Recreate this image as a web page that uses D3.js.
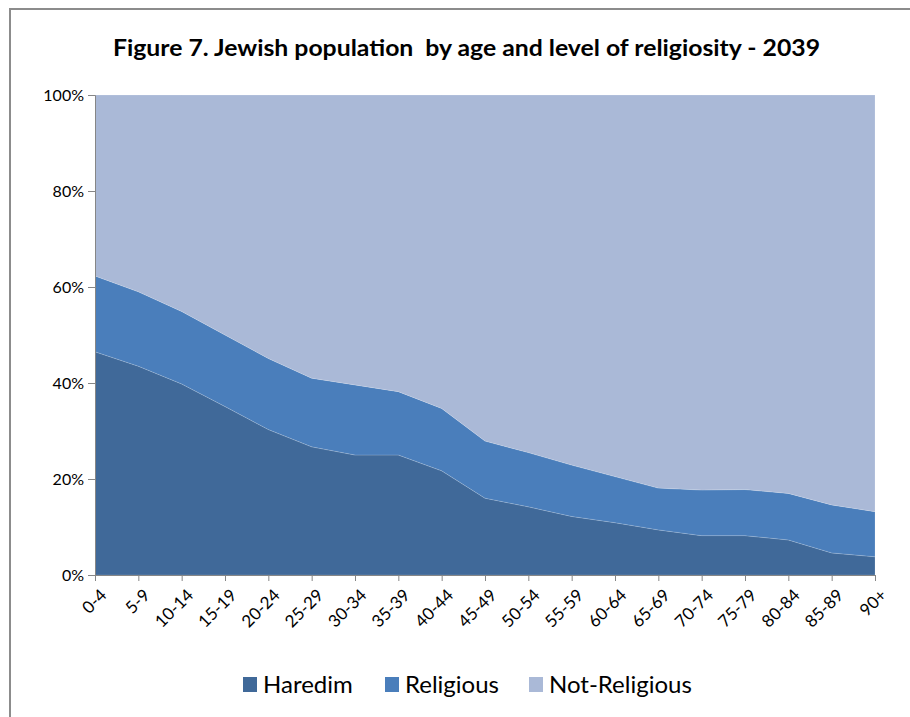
<!DOCTYPE html>
<html>
<head>
<meta charset="utf-8">
<script src="https://cdn.jsdelivr.net/npm/d3@7"></script>
<style>
  body { margin: 0; background: #fff; }
  svg { display: block; font-family: Lato, "Open Sans", sans-serif; }
</style>
</head>
<body>
<svg id="chart" width="910" height="717"></svg>
<script>
const width = 910;
const height = 717;
const margin = { left: 95, top: 95, right: 35, bottom: 142 };

// data (percent)
const ageGroups = ['0-4','5-9','10-14','15-19','20-24','25-29','30-34','35-39','40-44',
  '45-49','50-54','55-59','60-64','65-69','70-74','75-79','80-84','85-89','90+'];
const haredim     = [46.5, 43.5, 39.8, 35.1, 30.3, 26.7, 25.0, 25.0, 21.7, 16.0, 14.2, 12.2, 10.9, 9.4, 8.2, 8.2, 7.3, 4.6, 3.8];
const religious   = [15.8, 15.5, 15.1, 14.9, 14.8, 14.3, 14.6, 13.2, 13.0, 11.9, 11.3, 10.7, 9.6, 8.7, 9.5, 9.6, 9.7, 10.0, 9.4];
const notReligious= [37.7, 41.0, 45.1, 50.0, 54.9, 59.0, 60.4, 61.8, 65.3, 72.1, 74.5, 77.1, 79.5, 81.9, 82.3, 82.2, 83.0, 85.4, 86.8];
const seriesNames = ['Haredim', 'Religious', 'Not-Religious'];
const seriesColors = ['#406999', '#4a7ebb', '#aab9d7'];
const yTicks = [0, 0.2, 0.4, 0.6, 0.8, 1];

const rows = ageGroups.map((a, i) => ({
  age: a, Haredim: haredim[i], Religious: religious[i], 'Not-Religious': notReligious[i]
}));

const svg = d3.select('#chart');

// outer frame (top + left edges visible)
svg.append('path')
  .attr('d', `M10,${height} V9 H${width}`)
  .attr('fill', 'none')
  .attr('stroke', '#8c8c8c')
  .attr('stroke-width', 2);

// title
svg.append('text')
  .attr('x', 113).attr('y', 56)
  .attr('font-weight', 'bold')
  .attr('font-size', 23)
  .attr('fill', '#000')
  .attr('textLength', 707)
  .attr('lengthAdjust', 'spacingAndGlyphs')
  .style('white-space', 'pre')
  .text('Figure 7. Jewish population  by age and level of religiosity - 2039');

const x = d3.scalePoint().domain(ageGroups).range([margin.left, width - margin.right]);
const y = d3.scaleLinear().domain([0, 1]).range([height - margin.bottom, margin.top]);

const stack = d3.stack().keys(seriesNames).offset(d3.stackOffsetExpand);
const layers = stack(rows);

const area = d3.area()
  .x(d => x(d.data.age))
  .y0(d => y(d[0]))
  .y1(d => y(d[1]));

svg.append('g').selectAll('path')
  .data(layers)
  .enter().append('path')
  .attr('d', area)
  .attr('fill', (d, i) => seriesColors[i])
  .attr('stroke', 'rgba(255,255,255,0.25)')
  .attr('stroke-width', 0.6);

// y axis
const yAxis = svg.append('g')
  .attr('transform', `translate(${margin.left},0)`)
  .call(d3.axisLeft(y).tickValues(yTicks).tickFormat(d3.format('.0%')).tickSize(7).tickPadding(4));
yAxis.select('.domain').attr('stroke', '#868686');
yAxis.selectAll('.tick line').attr('stroke', '#868686');
yAxis.selectAll('.tick text').attr('font-size', 16).attr('fill', '#000')
  .attr('font-family', 'Lato, sans-serif');

// x axis
const xAxis = svg.append('g')
  .attr('transform', `translate(0,${height - margin.bottom})`)
  .call(d3.axisBottom(x).tickSize(6).tickSizeOuter(0));
xAxis.select('.domain').attr('stroke', '#868686');
xAxis.selectAll('.tick line').attr('stroke', '#868686');
xAxis.selectAll('.tick text')
  .attr('font-size', 17).attr('fill', '#000')
  .attr('font-family', 'Lato, sans-serif')
  .attr('text-anchor', 'end')
  .attr('transform', 'translate(8,17) rotate(-45)')
  .attr('dy', '0.35em')
  .attr('y', 0).attr('x', 0);

// legend
const legendX = [243, 385, 529];
const legend = svg.append('g').selectAll('g')
  .data(seriesNames)
  .enter().append('g')
  .attr('transform', (d, i) => `translate(${legendX[i]},677)`);
legend.append('rect')
  .attr('width', 14).attr('height', 15)
  .attr('fill', (d, i) => seriesColors[i]);
legend.append('text')
  .attr('x', 20).attr('y', 16)
  .attr('font-size', 24)
  .attr('fill', '#000')
  .text(d => d);
</script>
</body>
</html>
